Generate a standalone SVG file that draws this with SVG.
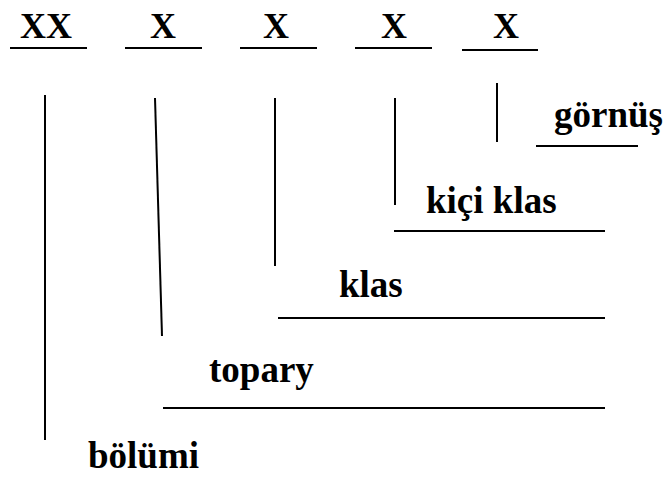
<svg xmlns="http://www.w3.org/2000/svg" width="668" height="486" viewBox="0 0 668 486">
<style>
text{font-family:"Liberation Serif","Times New Roman",serif;font-weight:bold;font-size:36px;fill:#000}
.lbl{font-size:37px}
line{stroke:#000;stroke-width:2}
</style>
<rect width="668" height="486" fill="#fff"/>
<g id="header">
<text x="20" y="38">XX</text>
<text x="150" y="38">X</text>
<text x="263" y="38">X</text>
<text x="381" y="38">X</text>
<text x="493" y="38">X</text>
<line x1="10" y1="48" x2="87" y2="48"/>
<line x1="125" y1="48" x2="202" y2="48"/>
<line x1="240" y1="48" x2="317" y2="48"/>
<line x1="355" y1="48" x2="432" y2="48"/>
<line x1="462" y1="50" x2="538" y2="50"/>
</g>
<g id="connectors">
<line x1="45" y1="95" x2="45" y2="440"/>
<line x1="155" y1="98" x2="162" y2="336"/>
<line x1="275" y1="98" x2="275" y2="266"/>
<line x1="395" y1="98" x2="395" y2="205"/>
<line x1="497" y1="83" x2="497" y2="142"/>
</g>
<g id="gornus">
<text class="lbl" x="554" y="127">görnüş</text>
<line x1="536" y1="146" x2="638" y2="146"/>
</g>
<g id="kici-klas">
<text class="lbl" x="426" y="213">kiçi klas</text>
<line x1="394" y1="231" x2="605" y2="231"/>
</g>
<g id="klas">
<text class="lbl" x="339" y="297">klas</text>
<line x1="278" y1="318" x2="605" y2="318"/>
</g>
<g id="topary">
<text class="lbl" x="209" y="382">topary</text>
<line x1="163" y1="408" x2="605" y2="408"/>
</g>
<g id="bolumi">
<text class="lbl" x="88" y="468">bölümi</text>
</g>
</svg>
